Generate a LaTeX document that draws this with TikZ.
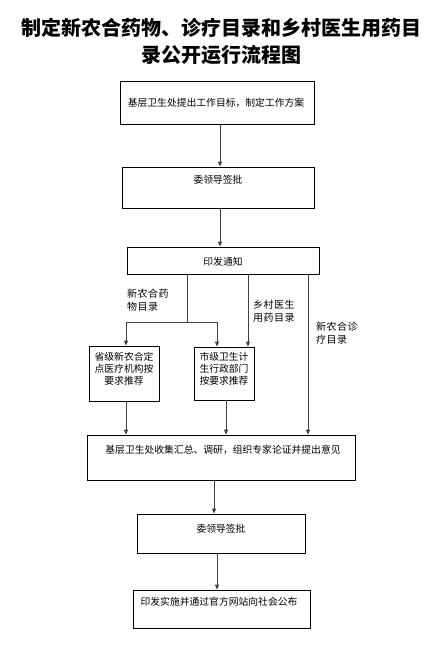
\documentclass[tikz,border=0pt]{standalone}
\usepackage{fontspec}
\setmainfont{Noto Sans CJK SC}
\usetikzlibrary{arrows.meta}
\begin{document}
\begin{tikzpicture}[x=1pt, y=-1pt, font=\fontsize{9.8}{12}\selectfont,
    box/.style={draw, line width=0.8pt, inner sep=0pt},
    arr/.style={draw=black!75, line width=0.9pt, -{Triangle[length=5pt,width=4pt]}},
    ln/.style={draw=black!75, line width=0.9pt},
    lab/.style={align=left, anchor=west, inner sep=0pt,
      font=\fontsize{10}{13}\selectfont\addfontfeature{LetterSpace=5}}]
  \useasboundingbox (0,0) rectangle (447,661);
  % titulo
  \node[align=center, font=\fontsize{20}{27}\selectfont\bfseries] (title) at (221,41.5)
    {制定新农合药物、诊疗目录和乡村医生用药目\\录公开运行流程图};
  % caixas
  \node[box, minimum width=194pt, minimum height=43pt] (b1) at (217,102.5) {};
  \node (t1) at (216,103) {基层卫生处提出工作目标，制定工作方案};
  \node[box, minimum width=192pt, minimum height=41pt] (b2) at (218,187.5) {};
  \node (t2) at (218,180) {委领导签批};
  \node[box, minimum width=192pt, minimum height=27pt] (b3) at (223,260.5) {};
  \node (t3) at (223,262) {印发通知};
  \node[box, minimum width=70pt, minimum height=55pt] (b4) at (124,373.5) {};
  \node[align=center] (t4) at (124,369) {省级新农合定\\点医疗机构按\\要求推荐};
  \node[box, minimum width=60pt, minimum height=53pt] (b5) at (224,373.5) {};
  \node[align=center] (t5) at (224,369) {市级卫生计\\生行政部门\\按要求推荐};
  \node[box, minimum width=268pt, minimum height=45pt] (b6) at (221,457.5) {};
  \node (t6) at (223,450) {基层卫生处收集汇总、调研，组织专家论证并提出意见};
  \node[box, minimum width=168pt, minimum height=39pt] (b7) at (221,533.5) {};
  \node (t7) at (221,529) {委领导签批};
  \node[box, minimum width=177pt, minimum height=38pt] (b8) at (221.5,609) {};
  \node (t8) at (219,602) {印发实施并通过官方网站向社会公布};
  % rotulos das linhas
  \node[lab] (l1) at (127,300.5) {新农合药\\物目录};
  \node[lab] (l2) at (253,311.5) {乡村医生\\用药目录};
  \node[lab] (l3) at (316,333.5) {新农合诊\\疗目录};
  % colunas
  \coordinate (c1) at (220,0);
  \coordinate (j)  at (187,322);
  \coordinate (jl) at (126,322);
  \coordinate (jr) at (217,322);
  \coordinate (c2) at (248,0);
  \coordinate (c3) at (308,0);
  \coordinate (c4) at (126,0);
  \coordinate (c5) at (226,0);
  \coordinate (c6) at (214,0);
  \coordinate (c7) at (217,0);
  % ligacoes
  \draw[arr] (b1.south -| c1) -- (b2.north -| c1);
  \draw[arr] (b2.south -| c1) -- (b3.north -| c1);
  \draw[ln] (b3.south -| j) -- (j);
  \draw[ln] (jl) -- (jr);
  \draw[arr] (jl) -- (b4.north -| jl);
  \draw[arr] (jr) -- (b5.north -| jr);
  \draw[arr] (b3.south -| c2) -- (b5.north -| c2);
  \draw[arr] (b3.south -| c3) -- (b6.north -| c3);
  \draw[arr] (b4.south -| c4) -- (b6.north -| c4);
  \draw[arr] (b5.south -| c5) -- (b6.north -| c5);
  \draw[arr] (b6.south -| c6) -- (b7.north -| c6);
  \draw[arr] (b7.south -| c7) -- (b8.north -| c7);
\end{tikzpicture}
\end{document}
